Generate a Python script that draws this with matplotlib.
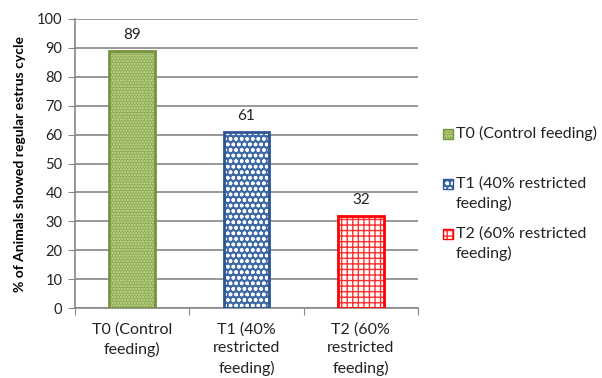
import matplotlib
matplotlib.use("Agg")
import matplotlib.pyplot as plt
from matplotlib.patches import Rectangle

categories = ["T0 (Control\nfeeding)", "T1 (40%\nrestricted\nfeeding)", "T2 (60%\nrestricted\nfeeding)"]
legend_labels = ["T0 (Control feeding)", "T1 (40% restricted\nfeeding)", "T2 (60% restricted\nfeeding)"]
values = [89, 61, 32]
y_ticks = [0, 10, 20, 30, 40, 50, 60, 70, 80, 90, 100]

# face colour, hatch colour, hatch pattern, border colour
styles = [
    ("#8fae52", "#c4d99c", "......", "#77933c"),
    ("#3f6aa8", "#ffffff", "ooo", "#2f5597"),
    ("#ffffff", "#ff3030", "+++", "#ff0000"),
]

plt.rcParams["font.family"] = ["Lato", "DejaVu Sans"]
plt.rcParams["hatch.linewidth"] = 1.0

fig = plt.figure(figsize=(6.02, 3.78), dpi=100)
ax = fig.add_axes([75 / 602, 1 - 308 / 378, (418 - 75) / 602, (308 - 19) / 378])

x = list(range(len(values)))
width = 0.4
for xi, v, (fc, hc, hp, ec) in zip(x, values, styles):
    ax.bar(xi, v, width, color=fc, edgecolor=hc, hatch=hp, linewidth=0, zorder=3)
    ax.bar(xi, v, width, fill=False, edgecolor=ec, linewidth=2, zorder=4)
    ax.text(xi, v + 3, str(v), ha="center", va="bottom", fontsize=11, color="#222222")

ax.set_xlim(-0.5, len(values) - 0.5)
ax.set_ylim(0, 100)
ax.set_yticks(y_ticks)
ax.tick_params(axis="y", labelsize=10.5, length=5, color="#868686", pad=4, labelcolor="#222222")
ax.set_xticks([i - 0.5 for i in range(len(values) + 1)], minor=False)
ax.set_xticklabels([])
ax.set_xticks(x, minor=True)
ax.set_xticklabels(categories, minor=True, fontsize=11.5, color="#222222", linespacing=1.45)
ax.tick_params(axis="x", which="major", length=5, color="#868686")
ax.tick_params(axis="x", which="minor", length=0, pad=10)

ax.grid(axis="y", color="#868686", linewidth=1.2, zorder=0)
for s in ["top", "right"]:
    ax.spines[s].set_visible(False)
for s in ["left", "bottom"]:
    ax.spines[s].set_color("#868686")
    ax.spines[s].set_linewidth(1.2)

ax.set_ylabel("% of Animals showed regular estrus cycle", fontsize=10, fontweight="bold", labelpad=8)

# legend keys and labels
legend_y = [134, 184, 234]
for ly, lab, (fc, hc, hp, ec) in zip(legend_y, legend_labels, styles):
    r = Rectangle((443 / 602, 1 - (ly + 5) / 378), 10 / 602, 10 / 378, transform=fig.transFigure,
                  facecolor=fc, edgecolor=hc, hatch=hp, linewidth=0)
    fig.add_artist(r)
    r2 = Rectangle((443 / 602, 1 - (ly + 5) / 378), 10 / 602, 10 / 378, transform=fig.transFigure,
                   fill=False, edgecolor=ec, linewidth=1)
    fig.add_artist(r2)
    fig.text(456 / 602, 1 - (ly - 8) / 378, lab, ha="left", va="top", fontsize=11.5, color="#222222",
             transform=fig.transFigure, linespacing=1.45)

fig.savefig("out.png", dpi=100)
